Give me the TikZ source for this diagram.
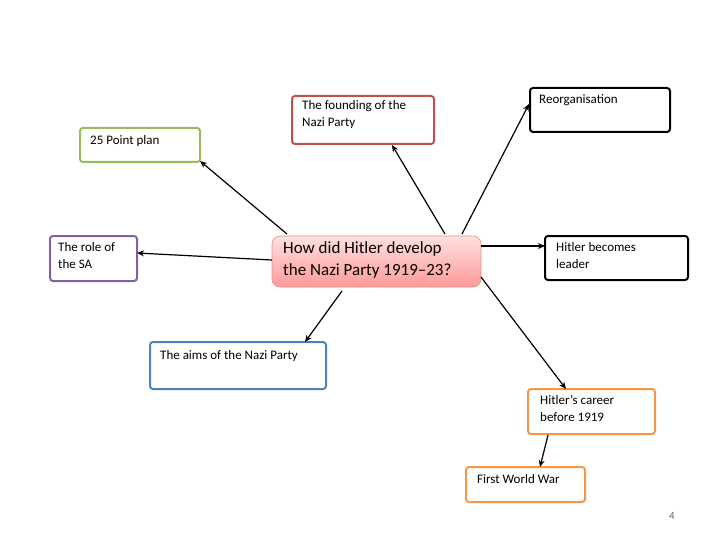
\documentclass[tikz,border=0pt]{standalone}
\usepackage{fontspec}
\setmainfont{Carlito}
\usetikzlibrary{arrows.meta}
\begin{document}
\begin{tikzpicture}[x=1pt,y=-1pt,
 box/.style={draw,line width=2pt,rounded corners=3pt,inner sep=0pt},
 lbl/.style={anchor=north west,align=left,font=\fontsize{13}{17}\selectfont,inner sep=0pt},
 arr/.style={-{Stealth[length=7pt,width=6pt]},line width=1.2pt}]
\useasboundingbox (0,0) rectangle (720,540);
\definecolor{cg}{HTML}{9BBB59}\definecolor{cr}{HTML}{C0504D}
\definecolor{cp}{HTML}{8064A2}\definecolor{cb}{HTML}{4F81BD}\definecolor{co}{HTML}{F79646}
\draw[box,cg] (80,128) rectangle (200,162);
\node[lbl] at (90,135) {25 Point plan};
\draw[box,cr] (292,96) rectangle (434,144);
\node[lbl] at (302,100) {The founding of the\\Nazi Party};
\draw[box,black] (530,88) rectangle (670,132);
\node[lbl] at (539,94) {Reorganisation};
\draw[box,cp] (50,236) rectangle (137,281);
\node[lbl] at (58,242) {The role of\\the SA};
\shade[top color=red!12,bottom color=red!40,rounded corners=8pt] (272,236) rectangle (481,287);
\draw[cr!60,line width=0.6pt,rounded corners=8pt] (272,236) rectangle (481,287);
\node[lbl,font=\fontsize{17}{22}\selectfont] at (283,241) {How did Hitler develop\\the Nazi Party 1919–23?};
\draw[box,black] (545,236) rectangle (688,280);
\node[lbl] at (556,242) {Hitler becomes\\leader};
\draw[box,cb] (150,342) rectangle (326,389);
\node[lbl] at (160,350) {The aims of the Nazi Party};
\draw[box,co] (528,389) rectangle (655,434);
\node[lbl] at (540,395) {Hitler’s career\\before 1919};
\draw[box,co] (466,467) rectangle (585,502);
\node[lbl] at (477,474) {First World War};
\node[font=\fontsize{11}{12}\selectfont,text=black!60] at (672,516) {4};
\coordinate (c1) at (287,234); \coordinate (e1) at (200,161);
\coordinate (c2) at (445,234); \coordinate (e2) at (392,145);
\coordinate (c3) at (462,234); \coordinate (e3) at (529,104);
\coordinate (c4) at (272,260); \coordinate (e4) at (137,253);
\coordinate (c5) at (481,246); \coordinate (e5) at (545,246);
\coordinate (c6) at (342,291); \coordinate (e6) at (305,342);
\coordinate (c7) at (481,277); \coordinate (e7) at (566,389);
\coordinate (c8) at (548,435); \coordinate (e8) at (540,467);
\foreach \i in {1,...,8} \draw[arr] (c\i) -- (e\i);
\end{tikzpicture}
\end{document}
